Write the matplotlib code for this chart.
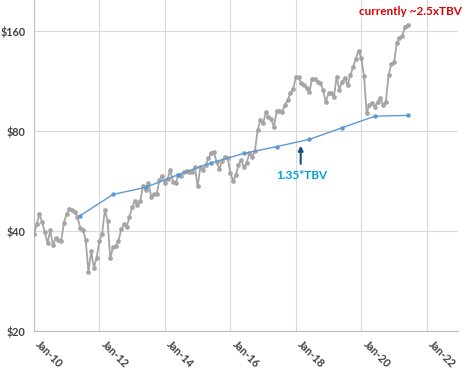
"""
Share price vs 1.35x tangible book value, monthly, log scale.
"""

import matplotlib.pyplot as plt
import matplotlib.dates as mdates
import pandas as pd

# monthly share price, Jan 2010 - Jun 2021
price = [39.0, 41.8, 44.8, 42.6, 39.6, 36.6, 40.1, 36.2, 38.0, 37.4, 37.3, 42.3,
         45.0, 46.6, 46.1, 45.6, 43.9, 40.8, 40.3, 37.4, 30.0, 34.7, 30.9, 33.2,
         37.2, 39.2, 46.1, 42.9, 33.0, 35.7, 36.0, 37.2, 40.4, 41.8, 41.1, 43.9,
         47.1, 49.0, 47.7, 49.0, 54.6, 53.0, 55.7, 50.6, 51.6, 51.5, 56.8, 58.4,
         55.7, 57.4, 60.9, 56.1, 55.5, 59.0, 58.5, 60.1, 60.4, 60.1, 60.1, 62.2,
         54.4, 62.2, 61.1, 63.0, 66.0, 68.3, 68.8, 64.4, 61.2, 65.0, 66.7, 66.3,
         59.7, 56.5, 58.8, 63.0, 65.2, 62.0, 64.0, 68.3, 66.7, 69.5, 80.3, 86.0,
         84.4, 90.8, 88.1, 86.7, 82.0, 91.6, 91.8, 91.2, 95.5, 98.8, 103.5, 106.4,
         115.9, 115.9, 110.9, 109.6, 107.5, 104.2, 114.6, 114.4, 112.1, 111.4, 105.9, 97.7,
         103.5, 104.0, 100.9, 116.0, 106.3, 112.1, 115.4, 109.6, 117.2, 124.1, 131.5, 139.3,
         132.1, 116.4, 90.2, 95.5, 97.0, 94.4, 97.3, 100.4, 95.5, 97.7, 117.8, 127.0,
         128.4, 146.9, 151.8, 153.6, 164.2, 166.1]
price_dates = pd.date_range('2010-01-01', periods=len(price), freq='MS')

# 1.35 x tangible book value per share, yearly
tbv_years = list(range(2011, 2022))
tbv_135 = [44.4, 51.4, 54.0, 59.0, 64.0, 68.3, 71.6, 75.3, 81.6, 88.4, 88.9]
tbv_dates = pd.to_datetime([f'{y}-06-01' for y in tbv_years])

y_ticks = [20, 40, 80, 160]
y_tick_labels = ['$20', '$40', '$80', '$160']
x_tick_years = [2010, 2012, 2014, 2016, 2018, 2020, 2022]

plt.rcParams['font.family'] = ['Lato', 'DejaVu Sans']

fig = plt.figure(figsize=(4.74, 3.71), dpi=100)
ax = fig.add_axes([0.0717, 0.1086, 0.8945, 0.8914])

ax.plot(price_dates, price, color='#A5A5A5', lw=1.3, marker='o', ms=3.4,
        markeredgewidth=0, zorder=3)
ax.plot(tbv_dates, tbv_135, color='#5B9BD5', lw=1.0, marker='o', ms=3.2,
        markeredgewidth=0, zorder=4)

ax.set_yscale('log', base=2)
ax.set_ylim(20, 197.7)
ax.set_yticks(y_ticks)
ax.set_yticklabels(y_tick_labels)
ax.yaxis.set_minor_locator(plt.NullLocator())

ax.set_xlim(pd.Timestamp('2010-01-01'), pd.Timestamp('2022-12-15'))
ax.set_xticks([pd.Timestamp(f'{y}-01-01') for y in x_tick_years])
ax.xaxis.set_major_formatter(mdates.DateFormatter('Jan-%y'))
for lbl in ax.get_xticklabels():
    lbl.set_rotation(-45)
    lbl.set_ha('left')
    lbl.set_va('top')

ax.tick_params(axis='both', length=0, labelsize=7.8, labelcolor='#404040')
ax.tick_params(axis='x', pad=6)
ax.tick_params(axis='y', pad=6)
for lbl in ax.get_xticklabels() + ax.get_yticklabels():
    lbl.set_fontweight('bold')

ax.grid(True, color='#D9D9D9', lw=0.8)
ax.set_axisbelow(True)
for side in ['top', 'right']:
    ax.spines[side].set_visible(False)
for side in ['left', 'bottom']:
    ax.spines[side].set_color('#BFBFBF')
    ax.spines[side].set_linewidth(0.8)

ax.text(pd.Timestamp('2021-07-01'), 183, 'currently ~2.5xTBV', color='#E00000',
        fontsize=8.5, fontweight='bold', ha='center', va='center')
ax.text(pd.Timestamp('2018-03-10'), 58.8, '1.35*TBV', color='#00A0E0',
        fontsize=8.5, fontweight='bold', ha='center', va='center')
ax.annotate('', xy=(pd.Timestamp('2018-02-24'), 73.5),
            xytext=(pd.Timestamp('2018-02-24'), 62.3),
            arrowprops=dict(arrowstyle='-|>', color='#1F4E79', lw=1.5,
                            mutation_scale=7))

fig.savefig('out.png', dpi=100)
plt.close()
